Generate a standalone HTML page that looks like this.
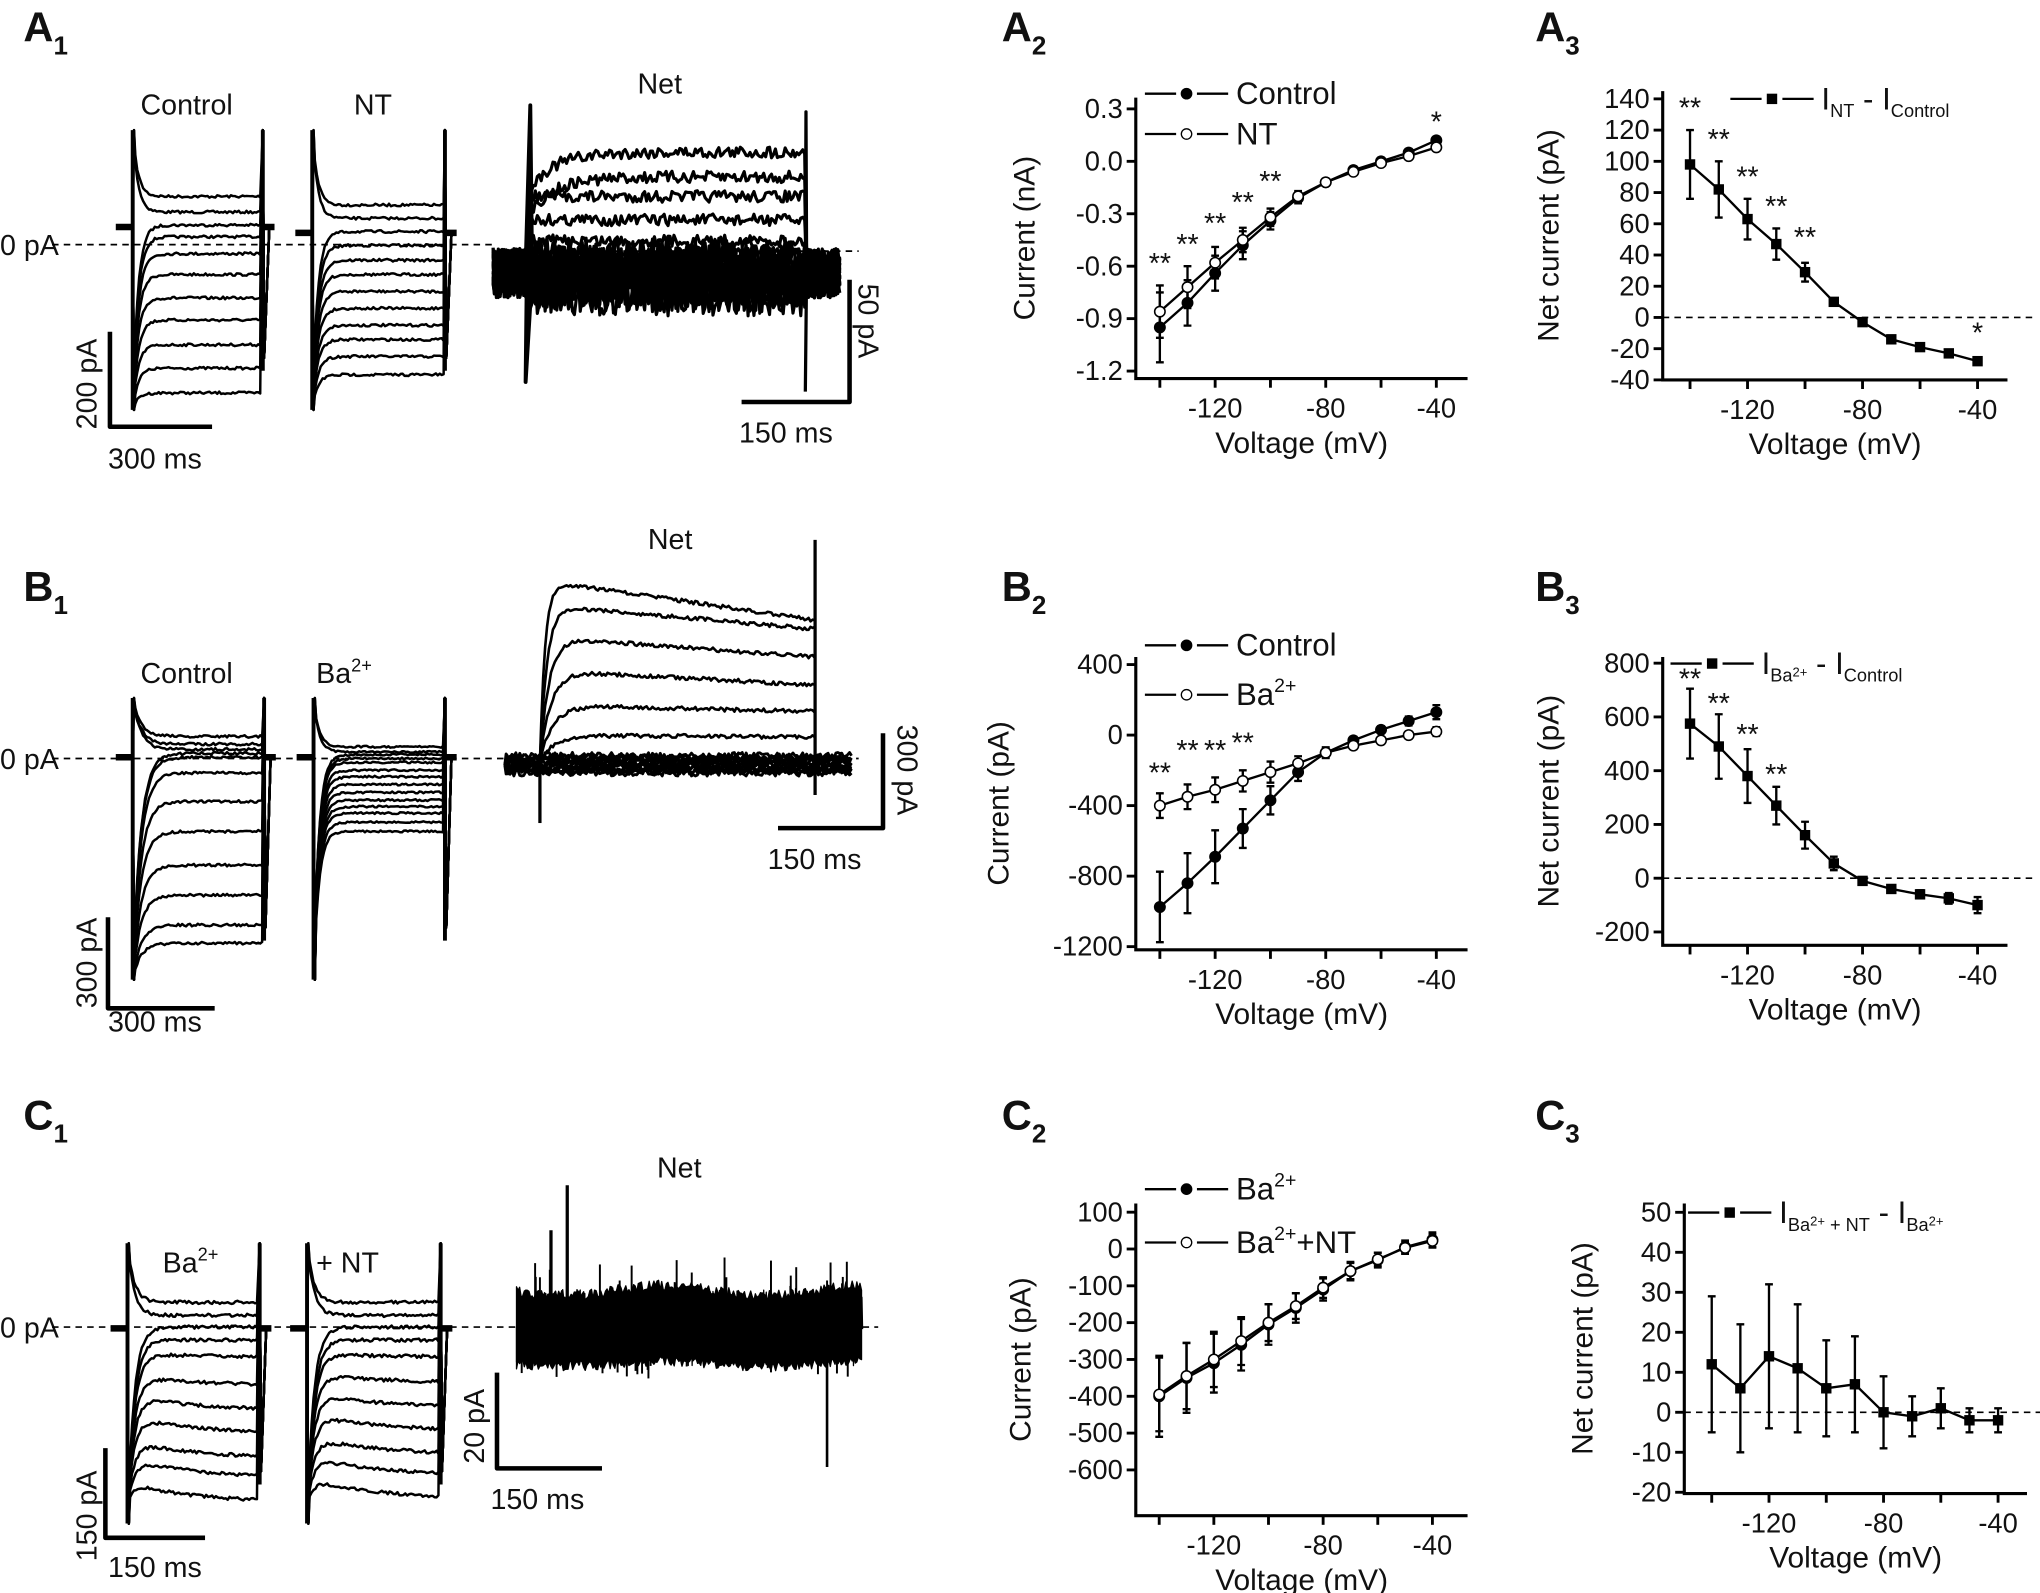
<!DOCTYPE html>
<html><head><meta charset="utf-8"><style>
html,body{margin:0;padding:0;background:#fff}
svg{display:block}
text{font-family:"Liberation Sans",Arial,sans-serif;fill:#111}
</style></head><body>
<svg id="s" width="2040" height="1593" viewBox="0 0 1568 1224.4" preserveAspectRatio="none" xmlns="http://www.w3.org/2000/svg">
<rect width="1568" height="1224.4" fill="#fff"/>
<g font-weight="bold" font-size="32">
<text x="18" y="32">A<tspan font-size="20" dy="10">1</tspan></text>
<text x="770" y="32">A<tspan font-size="20" dy="10">2</tspan></text>
<text x="1180" y="32">A<tspan font-size="20" dy="10">3</tspan></text>
<text x="18" y="462">B<tspan font-size="20" dy="10">1</tspan></text>
<text x="770" y="462">B<tspan font-size="20" dy="10">2</tspan></text>
<text x="1180" y="462">B<tspan font-size="20" dy="10">3</tspan></text>
<text x="18" y="868">C<tspan font-size="20" dy="10">1</tspan></text>
<text x="770" y="868">C<tspan font-size="20" dy="10">2</tspan></text>
<text x="1180" y="868">C<tspan font-size="20" dy="10">3</tspan></text>
</g>
<g font-size="22">
<text x="108" y="88">Control</text><text x="272" y="88">NT</text><text x="490" y="72">Net</text>
<text x="0" y="196">0 pA</text>
<text x="108" y="525">Control</text><text x="243" y="525">Ba<tspan font-size="14" dy="-9">2+</tspan></text><text x="498" y="422">Net</text>
<text x="0" y="591">0 pA</text>
<text x="125" y="978">Ba<tspan font-size="14" dy="-9">2+</tspan></text><text x="243" y="978">+ NT</text><text x="505" y="905">Net</text>
<text x="0" y="1028">0 pA</text>
<text x="83" y="360">300 ms</text><text x="568" y="340">150 ms</text>
<text x="83" y="793">300 ms</text><text x="590" y="668">150 ms</text>
<text x="83" y="1212">150 ms</text><text x="377" y="1160">150 ms</text>
<text transform="translate(74,330) rotate(-90)">200 pA</text>
<text transform="translate(660,218) rotate(90)">50 pA</text>
<text transform="translate(74,775) rotate(-90)">300 pA</text>
<text transform="translate(690,557) rotate(90)">300 pA</text>
<text transform="translate(74,1200) rotate(-90)">150 pA</text>
<text transform="translate(372,1125) rotate(-90)">20 pA</text>
</g>
<g id="tr" fill="none" stroke="#000" stroke-width="2.2" stroke-linejoin="round"></g>
<g id="pl"></g>
</svg>
<script>
var NS="http://www.w3.org/2000/svg",tr=document.getElementById('tr'),pl=document.getElementById('pl');
var seed=7;function R(){seed=(seed*16807)%2147483647;return seed/2147483647;}
function P(d,w,g,c){var p=document.createElementNS(NS,'path');p.setAttribute('d',d);if(w)p.setAttribute('stroke-width',w);if(c)p.setAttribute('stroke',c);(g||tr).appendChild(p);return p;}
function T(x,y,s,sz,anc,g,rot){var t=document.createElementNS(NS,'text');t.setAttribute('x',x);t.setAttribute('y',y);t.setAttribute('font-size',sz);if(anc)t.setAttribute('text-anchor',anc);if(rot)t.setAttribute('transform','rotate(-90 '+x+' '+y+')');t.innerHTML=s;(g||pl).appendChild(t);}
function dash(x1,x2,y){P('M'+x1+' '+y+'H'+x2,1.3).setAttribute('stroke-dasharray','5 4');}
function steps(x0,x1,base,levels,top,bot,noise,tau,sag){
 P('M'+(x0-13)+' '+base+'H'+x0+'M'+x1+' '+base+'H'+(x1+10),5);
 levels.forEach(function(L,i){var st=L<base-3?top:bot;var s=sag?sag[i]||0:0;
  var d='M'+x0+' '+base+'L'+(x0+1)+' '+st;
  for(var x=x0+2;x<=x1;x+=1.5){var y=L+(st-L)*Math.exp(-(x-x0)/tau)-s*Math.exp(-(x-x0)/50)+(R()-.5)*noise;d+='L'+x+' '+y.toFixed(1);}
  d+='L'+(x1+1)+' '+top+'L'+(x1+2)+' '+(bot-40)+'L'+(x1+6)+' '+base;P(d,1.9);});
 P('M'+x0+' '+top+'V'+bot,3);P('M'+(x1+1)+' '+top+'V'+(bot-30),3);
}
// A1
steps(102,201,174.5,[151,163,173,182,195,211,229,246,265,283,302],100,315,2,4);
steps(240,341,179,[157.6,167.8,178,188.6,200,211,224,237,250,261,274,288],100,315,2,4);
dash(40,380,188);
(function(){var lv=[117,136,151,169,185,195];
for(var k=0;k<22;k++){var up=k<lv.length;var L=up?lv[k]:198+(k-6)*2;var d='M379 '+(205+(R()-.5)*30);
for(var x=380;x<=646;x+=1.5){var y;if(x<407||x>619){y=210+(R()-.5)*38;}else{y=L+(up?(L<140?25*Math.exp(-(x-409)/20):0):0)+(R()-.5)*(up?9:30);}d+='L'+x+' '+y.toFixed(1);}P(d,2.4);}
P('M404 205L407.6 81L409 210L404 293.6L405 205',3);P('M619 205L619.5 86L620 205L619 301',2.5);dash(380,660,193);})();
P('M84.5 255V328H163',3.5);P('M653 215V309H570',3.5);
// B1
steps(102,202,582,[566,572,576,579,582,594,616,639,665,688,711,725],536.5,753,2,6);
steps(241,341,582,[574,578,580,583,586,592,597,603,609,615,620,625,632,639],536.5,753,1.5,4);
dash(40,388,583);
(function(){var st=[446,465,489.5,515,542,565],en=[476.5,483.5,505,526.6,547,566.5];
for(var k=0;k<12;k++){var d='M388 588';for(var x=389;x<=655;x+=1.5){var y=588+(k-6)*1.2+(R()-.5)*5;d+='L'+x+' '+y.toFixed(1);}P(d,2.2);}
st.forEach(function(S,i){var E=en[i],d='M415 585';for(var x=416;x<=626;x+=1.5){var t=(x-415)/211;var lin=S+(E-S)*t;var y=lin+(585-lin)*Math.exp(-(x-415)/(4+i*1.5))+(R()-.5)*3;d+='L'+x+' '+y.toFixed(1);}P(d,2);});
P('M415 588V632.6',2.5);P('M626.5 415V611',2.5);dash(388,660,583);})();
P('M83 705V775H165',3.5);P('M678.7 563.6V636.5H598',3.5);
// C1
var cl=[1001,1011,1020,1030,1043,1065,1084,1102,1121,1136,1155],cs=[0,0,0,0,3,8,12,14,14,15,16];
steps(98,198.6,1021,cl,955.6,1171,2.5,5,cs);
steps(236,337.7,1021,[1001,1011,1020,1030,1043,1063,1082,1100,1118,1134,1152],955.6,1171,2.5,5,cs);
dash(40,397,1020);dash(663,675,1020);
(function(){var up='',lo='';for(var x=397;x<=663;x+=1.2){var wob=Math.sin(x/25)*4;up+=(up?'L':'M')+x.toFixed(1)+' '+(996-wob-R()*8).toFixed(1);lo='L'+x.toFixed(1)+' '+(1044-wob*0.5+R()*8).toFixed(1)+lo;}
var p=P(up+lo+'Z',1);p.setAttribute('fill','#000');
var d='M397 1020';for(var x=397;x<=663;x+=0.5){d+='L'+x.toFixed(1)+' '+(1020+(R()-.5)*60).toFixed(1);}P(d,1);
for(var j=0;j<40;j++){var x=400+R()*260,u=R()<.5;P('M'+x.toFixed(1)+' 1020V'+(u?990-R()*25:1048+R()*12),1.5);}
P('M423.5 1020V945.6M436 1020V911',2.5);P('M635.7 1020V1127.6',2);})();
P('M81 1113V1182H157.6',3.5);P('M382 1055V1128.6H462.7',3.5);

function plot(o){var g=document.createElementNS(NS,'g');g.setAttribute('fill','none');g.setAttribute('stroke','#000');pl.appendChild(g);
 function X(v){return o.x0+(v-o.vx0)*o.sx;}function Y(v){return o.y0-(v-o.vy0)*o.sy;}
 P('M'+o.L+' '+o.T+'V'+o.B+'H'+o.Rt,2.4,g);
 o.yt.forEach(function(v){P('M'+o.L+' '+Y(v)+'h-7',2.2,g);T(o.L-10,Y(v)+7,o.yf?o.yf(v):v,21,'end');});
 for(var v=-140;v<=-40;v+=20)P('M'+X(v)+' '+o.B+'v7',2.2,g);
 [-120,-80,-40].forEach(function(v){T(X(v),o.B+30,v,21,'middle');});
 T((o.L+o.Rt)/2,o.B+57,'Voltage (mV)',23,'middle');
 T(o.ylx,(o.T+o.B)/2,o.ylab,23,'middle',null,1);
 if(o.zero)dash(o.L,o.Rt+20,Y(0));
 o.series.forEach(function(s){var d='';var V=[-140,-130,-120,-110,-100,-90,-80,-70,-60,-50,-40];
  s.d.forEach(function(v,i){d+=(i?'L':'M')+X(V[i])+' '+Y(v);var e=s.e?s.e[i]:0;if(e)P('M'+X(V[i])+' '+Y(v-e)+'V'+Y(v+e)+'M'+(X(V[i])-3)+' '+Y(v-e)+'h6M'+(X(V[i])-3)+' '+Y(v+e)+'h6',1.8,g);});
  P(d,1.8,g);s.d.forEach(function(v,i){var x=X(V[i]),y=Y(v);if(s.m=='sq'){var r=document.createElementNS(NS,'rect');r.setAttribute('x',x-3.5);r.setAttribute('y',y-3.5);r.setAttribute('width',7);r.setAttribute('height',7);r.setAttribute('fill','#000');g.appendChild(r);}else{var c=document.createElementNS(NS,'circle');c.setAttribute('cx',x);c.setAttribute('cy',y);c.setAttribute('r',4);c.setAttribute('fill',s.m=='o'?'#fff':'#000');c.setAttribute('stroke-width',1.2);g.appendChild(c);}});});
 (o.stars||[]).forEach(function(s){T(X(s[0]),Y(s[1]),s[2],22,'middle');});
 return {X:X,Y:Y,g:g};}
function legend(x,y,m,txt){P('M'+x+' '+y+'h24M'+(x+40)+' '+y+'h24',1.8);var c=document.createElementNS(NS,m=='sq'?'rect':'circle');if(m=='sq'){c.setAttribute('x',x+28);c.setAttribute('y',y-4);c.setAttribute('width',8);c.setAttribute('height',8);c.setAttribute('fill','#000');}else{c.setAttribute('cx',x+32);c.setAttribute('cy',y);c.setAttribute('r',4);c.setAttribute('fill',m=='o'?'#fff':'#000');c.setAttribute('stroke','#000');}pl.appendChild(c);T(x+70,y+8,txt,24);}
plot({x0:934,vx0:-120,sx:85/40,y0:124,vy0:0,sy:40.3/0.3,L:873,T:75,B:291,Rt:1128,ylx:795,yt:[0.3,0,-0.3,-0.6,-0.9,-1.2],yf:function(v){return v.toFixed(1);},ylab:'Current (nA)',
series:[{d:[-0.95,-0.81,-0.64,-0.48,-0.34,-0.21,-0.12,-0.05,0.0,0.05,0.12],e:[0.2,0.13,0.1,0.08,0.05,0.03,0.02,0.02,0.02,0.02,0.02],m:'f'},{d:[-0.86,-0.72,-0.58,-0.45,-0.32,-0.2,-0.12,-0.06,-0.01,0.03,0.08],e:[0.15,0.12,0.09,0.07,0.05,0.03,0,0,0,0,0],m:'o'}],
stars:[[-140,-0.64,'**'],[-130,-0.53,'**'],[-120,-0.41,'**'],[-110,-0.29,'**'],[-100,-0.17,'**'],[-40,0.17,'*']]});
legend(880,72,'f','Control');legend(880,103,'o','NT');
plot({x0:1343.2,vx0:-120,sx:2.21,y0:244,vy0:0,sy:1.2,L:1278,T:70,B:292,Rt:1543,ylx:1198,yt:[140,120,100,80,60,40,20,0,-20,-40],ylab:'Net current (pA)',zero:1,
series:[{d:[98,82,63,47,29,10,-3,-14,-19,-23,-28],e:[22,18,13,10,6,2,2,2,2,2,2],m:'sq'}],
stars:[[-140,128,'**'],[-130,108,'**'],[-120,84,'**'],[-110,65,'**'],[-100,45,'**'],[-40,-16,'*']]});
legend(1330,76,'sq','I<tspan font-size="14" dy="6">NT</tspan><tspan dy="-6"> - I</tspan><tspan font-size="14" dy="6">Control</tspan>');
plot({x0:934,vx0:-120,sx:85/40,y0:565,vy0:0,sy:54.2/400,L:873,T:505,B:730,Rt:1128,ylx:775,yt:[400,0,-400,-800,-1200],ylab:'Current (pA)',
series:[{d:[-975,-840,-690,-530,-370,-210,-100,-30,30,80,130],e:[200,170,150,110,80,50,30,20,20,25,40],m:'f'},{d:[-400,-350,-310,-260,-210,-160,-100,-60,-30,0,20],e:[70,70,70,60,60,40,30,20,20,20,25],m:'o'}],
stars:[[-140,-270,'**'],[-130,-140,'**'],[-120,-140,'**'],[-110,-100,'**']]});
legend(880,496,'f','Control');legend(880,534,'o','Ba<tspan font-size="15" dy="-10">2+</tspan>');
plot({x0:1343.2,vx0:-120,sx:2.21,y0:675,vy0:0,sy:0.2066,L:1278,T:505,B:726.6,Rt:1543,ylx:1198,yt:[800,600,400,200,0,-200],ylab:'Net current (pA)',zero:1,
series:[{d:[575,490,380,270,160,55,-10,-40,-60,-75,-100],e:[130,120,100,70,50,25,10,10,15,20,30],m:'sq'}],
stars:[[-140,705,'**'],[-130,615,'**'],[-120,500,'**'],[-110,350,'**']]});
legend(1284,510,'sq','I<tspan font-size="14" dy="6">Ba<tspan dy="-4" font-size="10">2+</tspan></tspan><tspan dy="-2"> - I</tspan><tspan font-size="14" dy="6">Control</tspan>');
plot({x0:933,vx0:-120,sx:84/40,y0:960,vy0:0,sy:28.3/100,L:873,T:925,B:1165,Rt:1128,ylx:792,yt:[100,0,-100,-200,-300,-400,-500,-600],ylab:'Current (pA)',
series:[{d:[-400,-350,-310,-260,-205,-160,-110,-60,-30,5,25],e:[110,95,80,70,55,40,30,25,20,18,20],m:'f'},{d:[-395,-345,-300,-250,-200,-155,-105,-60,-28,3,22],e:[100,90,75,65,50,35,28,22,18,15,18],m:'o'}]});
legend(880,914,'f','Ba<tspan font-size="15" dy="-10">2+</tspan>');legend(880,955,'o','Ba<tspan font-size="15" dy="-10">2+</tspan><tspan dy="10">+NT</tspan>');
plot({x0:1359.7,vx0:-120,sx:2.201,y0:1085.5,vy0:0,sy:3.074,L:1294.6,T:925,B:1148,Rt:1558,ylx:1224,yt:[50,40,30,20,10,0,-10,-20],ylab:'Net current (pA)',zero:1,
series:[{d:[12,6,14,11,6,7,0,-1,1,-2,-2],e:[17,16,18,16,12,12,9,5,5,3,3],m:'sq'}]});
legend(1297.5,932,'sq','I<tspan font-size="14" dy="6">Ba<tspan dy="-4" font-size="10">2+</tspan><tspan dy="4"> + NT</tspan></tspan><tspan dy="-6"> - I</tspan><tspan font-size="14" dy="6">Ba<tspan dy="-4" font-size="10">2+</tspan></tspan>');
</script>
</body></html>
